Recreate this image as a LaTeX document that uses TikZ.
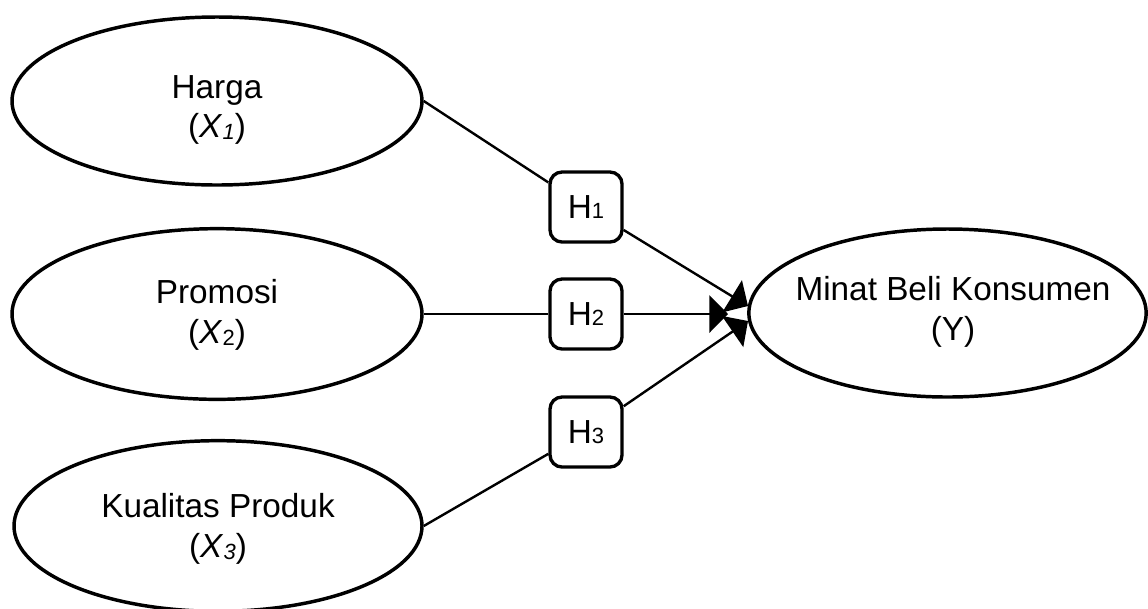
\documentclass[tikz,border=0pt]{standalone}
\usepackage{fontspec}
\setmainfont{Liberation Sans}
\usetikzlibrary{shapes.geometric,arrows.meta}
% small index set next to a variable name
\newcommand\lowidx[1]{\raisebox{-1.5pt}{\fontsize{16.5}{16.5}\selectfont #1}}
\newcommand\hidx[1]{\raisebox{-0.5pt}{\fontsize{16.5}{16.5}\selectfont #1}}
\begin{document}
\begin{tikzpicture}[x=0.75pt,y=-0.75pt,
  latent/.style={ellipse,draw,line width=2.6pt,inner sep=0pt},
  vartext/.style={align=center,inner sep=0pt,font=\fontsize{25}{29.5}\selectfont},
  hyp/.style={draw,fill=white,rounded corners=9pt,line width=2.5pt,
    minimum width=54pt,minimum height=52.5pt,inner sep=0pt,
    font=\fontsize{25}{29}\selectfont},
  link/.style={line width=1.8pt},
  arrowlink/.style={link,-{Triangle[length=14pt,width=28pt]}}]
  \useasboundingbox (0,0) rectangle (1148,608);

  % latent variables
  \node[latent,minimum width=307.5pt,minimum height=126pt] (x1) at (217,101) {};
  \node[latent,minimum width=307.5pt,minimum height=128pt] (x2) at (217,314) {};
  \node[latent,minimum width=306pt,minimum height=128pt] (x3) at (218,526) {};
  \node[latent,minimum width=298pt,minimum height=126pt] (y) at (947.5,313) {};

  \node[vartext] (x1t) at (217,110) {Harga\\(\textit{X}\lowidx{\itshape 1})};
  \node[vartext] (x2t) at (217,315) {Promosi\\(\textit{X}\lowidx{2})};
  \node[vartext] (x3t) at (218,529) {Kualitas Produk\\(\textit{X}\lowidx{\itshape 3})};
  \node[vartext] (yt) at (953,312) {Minat Beli Konsumen\\(Y)};

  % hypothesis labels
  \node[hyp] (h1) at (586,207) {H\hidx{1}};
  \node[hyp] (h2) at (586,314) {H\hidx{2}};
  \node[hyp] (h3) at (586,432) {H\hidx{3}};

  % arrow tips at the dependent variable
  \coordinate (t1) at (748,306);
  \coordinate (t2) at (728,314);
  \coordinate (t3) at (748,321);

  % paths
  \draw[link] (x1.east) -- (h1);
  \draw[arrowlink] (h1) -- (t1);
  \draw[link] (x2.east) -- (h2);
  \draw[arrowlink] (h2) -- (t2);
  \draw[link] (x3.east) -- (h3);
  \draw[arrowlink] (h3) -- (t3);
\end{tikzpicture}
\end{document}
